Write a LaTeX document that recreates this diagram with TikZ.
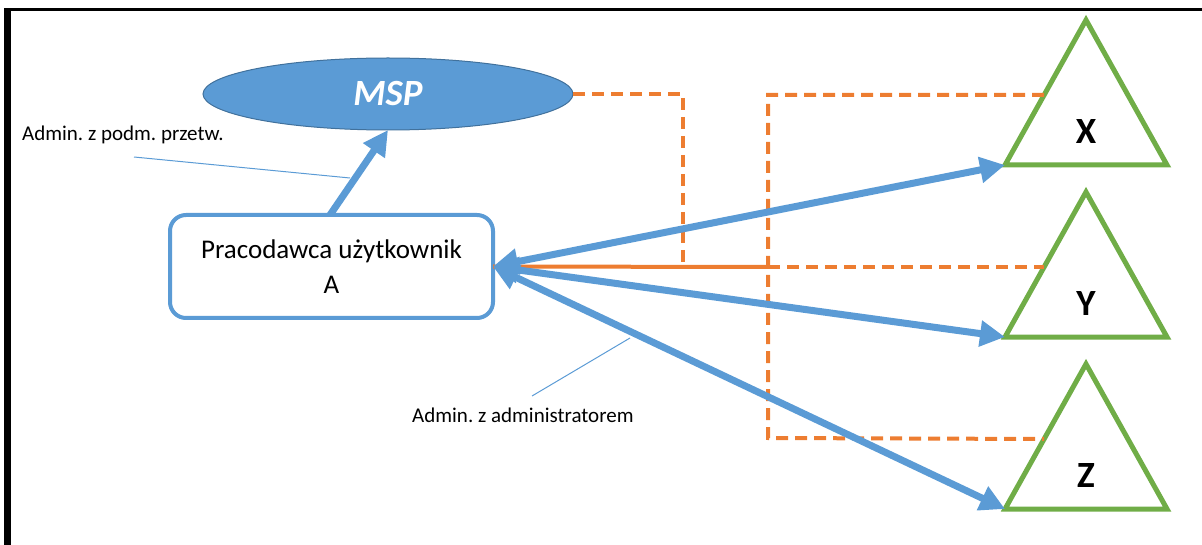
\documentclass[tikz,border=0pt]{standalone}
\usepackage{fontspec}
\setmainfont{Carlito}
\usetikzlibrary{arrows.meta,shapes.geometric}
\definecolor{msblue}{HTML}{5B9BD5}
\definecolor{msblueedge}{HTML}{41719C}
\definecolor{msorange}{HTML}{ED7D31}
\definecolor{msgreen}{HTML}{70AD47}
\frenchspacing
\tikzset{
  bluearrow/.style={draw=msblue, line width=7pt,
    -{Triangle[length=25pt,width=25pt]}},
  bothways/.style={draw=msblue, line width=7pt,
    {Triangle[length=25pt,width=25pt]}-{Triangle[length=25pt,width=25pt]}},
  orangesolid/.style={draw=msorange, line width=4pt},
  orangedash/.style={draw=msorange, line width=4pt, dash pattern=on 12pt off 7pt},
  callout/.style={draw=msblue, line width=1pt},
  unit/.style={draw=msgreen, line width=5pt, line join=miter, fill=white},
  unitlabel/.style={font=\fontsize{37}{40}\selectfont\bfseries},
  note/.style={font=\fontsize{21}{24}\selectfont, inner sep=0pt}
}
\begin{document}
\begin{tikzpicture}[x=1pt,y=-1pt]
\useasboundingbox (0,0) rectangle (1202,545);
% page frame
\fill[black] (4,8.5) rectangle (1202,11.5);
\fill[black] (4,8.5) rectangle (11,545);

% main entities
\node[ellipse, fill=msblue, draw=msblueedge, line width=1pt,
      minimum width=370pt, minimum height=72pt, inner sep=0pt, outer sep=0pt,
      text=white, font=\fontsize{37}{40}\selectfont\bfseries\itshape]
      (msp) at (388,94) {MSP};
\node[draw=msblue, line width=4pt, rounded corners=16pt, fill=white,
      minimum width=323pt, minimum height=103pt, outer sep=0pt, inner sep=0pt,
      align=center, font=\fontsize{27}{35}\selectfont]
      (A) at (331.5,266.5) {Pracodawca użytkownik\\A};

% triangles X, Y, Z (corners: bl = base left, br = base right, ap = apex)
\foreach \n/\yb in {X/165, Y/337, Z/509} {
  \coordinate (\n-bl) at (1005,\yb);
  \coordinate (\n-br) at (1167,\yb);
  \coordinate (\n-ap) at (1086,\yb-145);
  \coordinate (\n-tap) at (1044,\yb-70);
  \draw[unit] (\n-bl) -- (\n-ap) -- (\n-br) -- cycle;
  \node[unitlabel] (\n-lbl) at (1086,\yb-33) {\n};
}

% orange links
\coordinate (j1) at (683,267);
\coordinate (hub) at (768,267);
\coordinate (hubtop) at (768,95);
\coordinate (hubbot) at (768,438);
\draw[orangesolid] (A.east) -- (hub);
\draw[orangedash] (msp.east) -| (j1);
\draw[orangedash] (X-tap) -- (hubtop) -- (hubbot) -- (Z-tap);
\draw[orangedash] (hub) -- (Y-tap);

% blue relations
\coordinate (Atop) at (330,215);
\coordinate (mspbot) at (388,130);
\draw[bluearrow] (Atop) -- (mspbot);
\draw[bothways] (A.east) -- (X-bl);
\draw[bothways] (A.east) -- (Y-bl);
\draw[bothways] (A.east) -- (Z-bl);

% notes with pointer lines
\node[note, anchor=base west] (n1) at (22,141) {Admin. z podm. przetw.};
\coordinate (n1a) at (134,157);
\coordinate (n1b) at (350,178);
\draw[callout] (n1a) -- (n1b);
\node[note, anchor=base west] (n2) at (412,422) {Admin. z administratorem};
\coordinate (n2a) at (532,396);
\coordinate (n2b) at (630,338);
\draw[callout] (n2a) -- (n2b);
\end{tikzpicture}
\end{document}
